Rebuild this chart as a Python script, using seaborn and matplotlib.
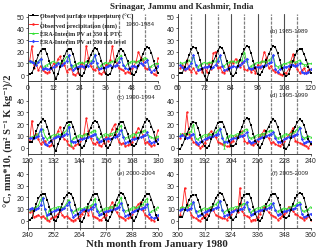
import numpy as np
import pandas as pd
import matplotlib
import seaborn as sns

matplotlib.use("Agg")
from matplotlib import pyplot as plt
from matplotlib.lines import Line2D

# monthly values, one row per year (Jan..Dec), 1980-2009
temperature = [
    1, 2, 6, 12, 17, 21, 22, 22, 18, 12, 6, 2,
    -3, 1, 7, 12, 16, 21, 22.5, 22, 18, 11, 5, 0,
    -1, 2, 7, 12, 17, 21, 23, 22, 18, 12, 6, 1,
    0, 1, 6, 11, 16, 21, 22, 21, 17, 12, 5, 1,
    0, 3, 8, 13, 18, 22, 24, 23, 19, 12, 6, 2,
    2, 2, 7, 12, 17, 22, 24, 23, 19, 13, 5, -1,
    -4, 2, 7, 12, 16, 21, 24, 23, 19, 12, 5, 1,
    -1, 2, 8, 13, 18, 22, 25, 24, 19, 12, 6, 1,
    0, 3, 7, 13, 18, 22, 25, 24, 19, 13, 6, 1,
    -1, 1, 7, 12, 17, 21, 22, 22, 18, 13, 7, 2,
    5, 5, 8, 14, 19, 22, 24, 23, 18, 12, 6, 1,
    -3, 3, 7, 12, 17, 21, 22, 22, 18, 12, 6, 2,
    0, 1, 6, 12, 17, 21, 23, 22, 18, 12, 6, 1,
    0, 2, 7, 11, 16, 20, 22, 22, 17, 12, 6, 2,
    1, 3, 8, 13, 18, 22, 24, 23, 18, 13, 6, 3,
    -1, 2, 7, 12, 16, 20, 22, 21, 17, 11, 5, 1,
    0, 1, 7, 12, 17, 21, 22, 22, 18, 12, 6, 1,
    1, 3, 8, 13, 18, 23, 25, 24, 19, 12, 6, 2,
    0, 3, 8, 14, 18, 22, 24, 23, 18, 12, 6, 0,
    -1, 2, 8, 14, 18, 22, 24, 23, 19, 13, 7, 3,
    1, 2, 8, 14, 19, 22, 23, 23, 18, 12, 6, 1,
    0, 3, 9, 14, 19, 22, 24, 23, 19, 13, 6, 0,
    -1, 2, 8, 14, 18, 22, 23, 23, 18, 12, 6, 1,
    0, 3, 7, 13, 18, 22, 24, 23, 19, 13, 6, 2,
    0, 3, 8, 14, 18, 21, 23, 23, 18, 12, 5, 1,
    3, 3, 9, 13, 18, 21, 22, 22, 18, 12, 6, 2,
    1, 4, 9, 14, 19, 22, 24, 23, 18, 13, 7, 2,
    1, 3, 8, 14, 19, 22, 23, 23, 19, 12, 6, 1,
    0, 2, 8, 14, 18, 22, 23, 23, 19, 13, 7, 3,
    2, 4, 9, 14, 19, 22, 24, 23, 19, 12, 5, 1,
]
precipitation = [
    12, 25, 6, 10, 4, 8, 4, 3, 2, 3, 6, 10,
    8, 14, 16, 10, 9, 3, 5, 6, 1, 0, 2, 7,
    10, 6, 25, 15, 8, 5, 4, 7, 2, 1, 3, 9,
    9, 13, 25, 12, 10, 6, 5, 4, 2, 3, 2, 6,
    8, 12, 20, 15, 13, 6, 5, 7, 3, 1, 0, 15,
    6, 9, 4, 13, 5, 3, 6, 2, 4, 5, 3, 7,
    3, 10, 5, 19, 20, 6, 7, 3, 2, 4, 8, 12,
    10, 14, 12, 7, 11, 5, 4, 6, 3, 5, 2, 9,
    6, 12, 20, 15, 6, 8, 4, 3, 2, 1, 0, 2,
    2, 5, 12, 18, 10, 5, 2, 4, 6, 2, 4, 5,
    6, 23, 9, 12, 7, 3, 5, 6, 2, 1, 2, 8,
    10, 14, 18, 10, 7, 6, 2, 1, 0, 2, 3, 6,
    8, 12, 25, 14, 8, 4, 3, 5, 2, 1, 4, 9,
    6, 11, 16, 20, 10, 5, 3, 4, 1, 2, 3, 5,
    9, 13, 17, 14, 11, 4, 5, 3, 1, 2, 8, 15,
    8, 12, 10, 30, 12, 8, 5, 3, 2, 0, 1, 4,
    7, 12, 14, 10, 9, 5, 4, 3, 2, 1, 1, 5,
    6, 10, 9, 12, 14, 6, 4, 5, 3, 2, 4, 6,
    10, 12, 15, 10, 8, 4, 5, 3, 2, 1, 3, 6,
    8, 11, 13, 17, 6, 5, 4, 3, 2, 1, 0, 3,
    7, 9, 3, 4, 5, 3, 4, 2, 1, 0, 2, 3,
    4, 6, 8, 5, 3, 4, 2, 1, 0, 1, 2, 4,
    6, 8, 10, 5, 12, 4, 3, 2, 1, 1, 3, 5,
    8, 12, 16, 10, 7, 4, 3, 2, 1, 2, 3, 6,
    8, 12, 14, 16, 9, 5, 4, 2, 1, 0, 3, 2,
    5, 12, 28, 14, 10, 5, 3, 2, 1, 0, 2, 4,
    6, 10, 12, 9, 5, 4, 3, 2, 2, 1, 3, 6,
    8, 10, 7, 28, 8, 5, 4, 3, 0, 1, 1, 3,
    6, 9, 12, 10, 7, 5, 4, 3, 1, 2, 4, 6,
    7, 12, 10, 8, 6, 5, 3, 2, 1, 2, 4, 1,
]
pv_350k = [
    11, 12, 11, 10, 12, 14, 6, 8, 9, 10, 11, 12,
    10, 11, 10, 12, 13, 16, 15, 7, 8, 9, 10, 11,
    11, 10, 12, 11, 12, 13, 18, 8, 6, 9, 10, 11,
    10, 11, 12, 12, 13, 15, 17, 9, 7, 10, 11, 12,
    12, 11, 12, 13, 14, 15, 14, 6, 8, 9, 10, 10,
    11, 10, 11, 12, 13, 10, 16, 8, 7, 9, 10, 11,
    10, 11, 11, 12, 12, 14, 16, 9, 8, 10, 11, 12,
    12, 11, 12, 13, 13, 20, 12, 6, 8, 9, 10, 11,
    11, 12, 12, 11, 13, 14, 17, 9, 7, 8, 9, 10,
    10, 11, 12, 12, 11, 12, 13, 10, 9, 9, 10, 10,
    9, 9, 10, 11, 12, 14, 16, 10, 7, 9, 10, 11,
    11, 12, 11, 12, 13, 15, 20, 2, 8, 9, 10, 11,
    10, 11, 12, 12, 13, 14, 15, 9, 7, 10, 11, 12,
    11, 12, 12, 13, 14, 16, 19, 10, 8, 9, 10, 11,
    12, 11, 13, 13, 14, 15, 12, 10, 9, 8, 9, 10,
    12, 11, 12, 12, 13, 14, 20, 8, 7, 9, 10, 11,
    11, 12, 11, 12, 13, 15, 17, 10, 0, 9, 10, 11,
    10, 11, 12, 12, 13, 15, 16, 9, 8, 9, 10, 11,
    11, 12, 12, 13, 14, 15, 14, 10, 8, 9, 10, 11,
    12, 11, 12, 13, 14, 16, 18, 10, 8, 9, 10, 9,
    9, 10, 11, 12, 13, 18, 20, 10, 2, 9, 10, 11,
    11, 12, 12, 11, 12, 15, 18, 9, 7, 9, 10, 11,
    10, 11, 12, 12, 13, 14, 19, 10, 7, 9, 10, 11,
    11, 12, 12, 13, 13, 16, 20, 10, 8, 9, 10, 11,
    12, 11, 12, 13, 14, 17, 19, 6, 8, 9, 10, 12,
    11, 12, 11, 12, 13, 15, 16, 7, 8, 9, 10, 11,
    10, 11, 12, 13, 14, 16, 17, 9, 7, 9, 10, 11,
    11, 12, 12, 13, 14, 15, 14, 8, 7, 9, 10, 11,
    11, 12, 13, 12, 13, 15, 14, 9, 8, 9, 10, 11,
    10, 11, 12, 13, 13, 15, 16, 9, 8, 9, 10, 12,
]
pv_200mb = [
    12, 11, 10, 9, 11, 14, 5, 6, 5, 5, 6, 7,
    9, 10, 8, 9, 10, 12, 17, 9, 4, 6, 7, 8,
    8, 7, 9, 8, 10, 12, 17, 10, 5, 6, 6, 7,
    8, 9, 7, 8, 9, 11, 15, 9, 6, 5, 6, 8,
    8, 7, 9, 10, 9, 11, 13, 5, 3, 4, 6, 8,
    9, 7, 5, 6, 8, 10, 17, 9, 4, 5, 6, 7,
    7, 8, 6, 7, 9, 12, 17, 8, 4, 5, 6, 7,
    8, 7, 8, 9, 10, 12, 14, 6, 5, 6, 7, 7,
    7, 8, 8, 9, 10, 11, 17, 5, 3, 5, 6, 7,
    7, 8, 9, 9, 8, 9, 10, 3, 2, 2, 3, 5,
    8, 8, 8, 9, 10, 16, 8, 3, 2, 5, 6, 8,
    9, 10, 9, 10, 11, 12, 18, 6, 5, 5, 6, 7,
    7, 8, 8, 9, 10, 11, 12, 7, 5, 6, 7, 7,
    8, 7, 8, 9, 10, 12, 15, 9, 4, 5, 6, 7,
    7, 8, 8, 9, 10, 11, 13, 6, 4, 5, 6, 7,
    10, 11, 9, 8, 9, 11, 12, 5, 3, 5, 6, 7,
    8, 9, 9, 10, 11, 12, 16, 8, 5, 5, 6, 7,
    8, 8, 9, 10, 10, 11, 13, 6, 4, 5, 6, 7,
    8, 9, 9, 10, 11, 12, 13, 8, 5, 5, 6, 7,
    8, 9, 9, 10, 11, 12, 17, 7, 4, 5, 6, 5,
    10, 11, 9, 10, 11, 13, 19, 10, 5, 6, 7, 8,
    9, 10, 9, 10, 11, 13, 16, 9, 3, 5, 6, 7,
    9, 10, 9, 9, 10, 12, 14, 8, 5, 6, 7, 8,
    8, 9, 9, 10, 11, 12, 15, 9, 4, 5, 6, 7,
    8, 9, 10, 10, 11, 12, 14, 6, 3, 2, 3, 5,
    9, 10, 10, 9, 10, 11, 16, 8, 4, 5, 6, 7,
    8, 9, 9, 10, 11, 12, 17, 9, 4, 5, 6, 7,
    8, 9, 9, 10, 10, 12, 16, 10, 5, 6, 7, 8,
    9, 9, 10, 10, 11, 12, 15, 9, 5, 6, 7, 8,
    8, 9, 10, 10, 11, 13, 14, 6, 3, 4, 5, 6,
]

series_names = [
    "Observed surface temperature (°C)",
    "Observed precipitation (mm)",
    "ERA-Interim PV at 350 K PTC",
    "ERA-Interim PV at 200 mb level",
]
series_colors = ["black", "#ff2020", "#30e030", "#3040ff"]
series_markers = ["s", "o", "^", "D"]
panel_labels = ["1980-1984", "(b) 1985-1989", "(c) 1990-1994",
                "(d) 1995-1999", "(e) 2000-2004", "(f) 2005-2009"]

months = np.arange(1, 361)
df = pd.concat(
    [pd.DataFrame({"month": months, "value": vals, "series": name})
     for name, vals in zip(series_names, [temperature, precipitation, pv_350k, pv_200mb])],
    ignore_index=True,
)

sns.set_theme(style="ticks")
plt.rcParams["font.family"] = ["Liberation Sans", "DejaVu Sans"]
serif = ["Liberation Serif", "DejaVu Serif"]

W, H = 320, 253
fig = plt.figure(figsize=(W / 100, H / 100), dpi=100)

col_x = [(27.5, 130.5), (178, 132.7)]
row_y = [(82, 15, -5.0, 52.3), (155, 84, -5.5, 55.2), (229.3, 160, -6.5, 52.7)]
label_y = [24, 31, 97, 96, 173, 173]

draw_order = [series_names[1], series_names[2], series_names[3], series_names[0]]
palette = dict(zip(series_names, series_colors))
markers = dict(zip(series_names, series_markers))

for i in range(6):
    r, c = divmod(i, 2)
    x0, w = col_x[c]
    yb, yt, lo, hi = row_y[r]
    ax = fig.add_axes([x0 / W, 1 - yb / H, w / W, (yb - yt) / H])
    start = 60 * i
    sub = df[(df["month"] > start) & (df["month"] <= start + 60)]

    for m in range(start + 6, start + 60, 6):
        if m % 12 == 0:
            ax.axvline(m, color="#505050", lw=0.8, zorder=0)
        else:
            ax.axvline(m, color="#808080", lw=0.9, ls=(0, (2.5, 1)), zorder=0)

    sns.lineplot(
        data=sub, x="month", y="value", hue="series", style="series",
        hue_order=draw_order, style_order=draw_order,
        palette=palette, markers=markers, dashes=False,
        linewidth=0.6, markersize=1.7, markeredgewidth=0,
        legend=False, ax=ax,
    )

    ax.set_xlim(start, start + 60)
    ax.set_ylim(lo, hi)
    ax.set_xticks(range(start, start + 61, 12))
    ax.set_yticks(range(0, 51, 10) if r == 0 else range(0, 41, 10))
    ax.set_xlabel("")
    ax.set_ylabel("")
    ax.tick_params(labelsize=5, length=1.5, width=0.5, pad=0.8)
    for side in ["top", "right"]:
        ax.spines[side].set_visible(False)
    for side in ["left", "bottom"]:
        ax.spines[side].set_linewidth(0.6)
    ax.patch.set_alpha(0)

    fig.text((x0 + w - 3) / W, 1 - label_y[i] / H, panel_labels[i],
             fontsize=4.3, ha="right", va="center")

    if i == 0:
        handles = [Line2D([], [], color=col, marker=mk, lw=0.7, markersize=1.8,
                          markeredgewidth=0)
                   for col, mk in zip(series_colors, series_markers)]
        ax.legend(handles, series_names, loc="upper left",
                  bbox_to_anchor=(0.01, 1.02), frameon=False,
                  prop={"family": serif, "weight": "bold", "size": 4.4},
                  handlelength=1.5, handletextpad=0.3, labelspacing=0.5,
                  borderaxespad=0, borderpad=0)

fig.text(182 / W, 1 - 7 / H, "Srinagar, Jammu and Kashmir, India",
         family=serif, weight="bold", fontsize=6.5, ha="center", va="center")
fig.text(157 / W, 1 - 245 / H, "Nth month from January 1980",
         family=serif, weight="bold", fontsize=7.8, ha="center", va="center")
fig.text(9 / W, 1 - 141 / H, "°C, mm*10, (m² S⁻¹ K kg⁻¹)/2",
         family=serif, weight="bold", fontsize=7.6, rotation=90,
         ha="center", va="center")

fig.savefig("out.png", dpi=100)
